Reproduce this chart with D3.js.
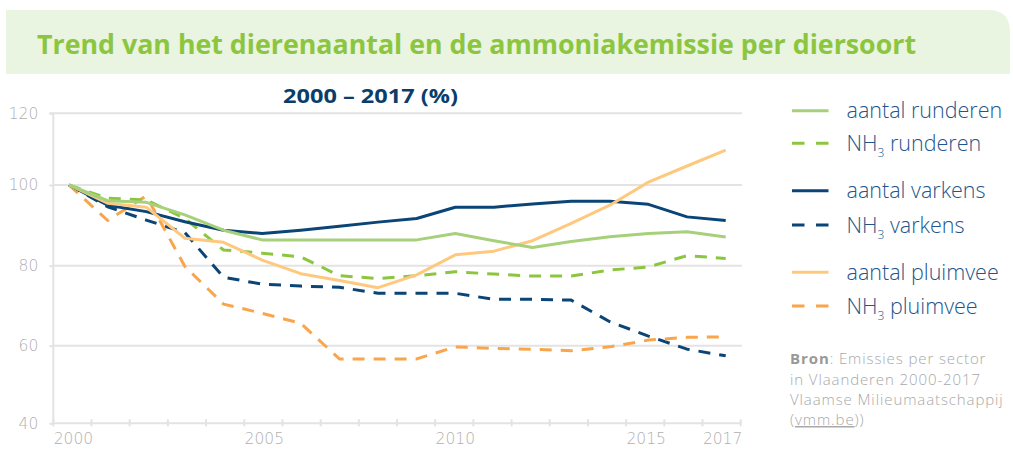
<!DOCTYPE html>
<html><head><meta charset="utf-8">
<script src="https://cdn.jsdelivr.net/npm/d3@7"></script>
<style>
html,body{margin:0;padding:0;background:#fff;}
svg{display:block;}
</style></head>
<body>
<svg id="chart" width="1013" height="470"></svg>
<script>
const years = [2000,2001,2002,2003,2004,2005,2006,2007,2008,2009,2010,2011,2012,2013,2014,2015,2016,2017];
const xTickLabels = [2000,2005,2010,2015,2017];
const yTicks = [40,60,80,100,120];

const aantalRunderen = [100,96.1,95.7,92.6,88.8,86.4,86.4,86.4,86.4,86.4,88.0,86.2,84.5,86.0,87.2,88.0,88.4,87.1];
const nh3Runderen    = [100,96.7,96.3,91.7,83.9,83.1,82.2,77.5,76.8,77.5,78.5,77.9,77.4,77.4,78.9,79.7,82.5,81.8];
const aantalVarkens  = [100,95.0,93.4,90.9,88.8,88.0,88.8,89.8,90.8,91.7,94.5,94.5,95.3,96.0,96.0,95.2,92.1,91.2];
const nh3Varkens     = [100,94.6,91.3,88.2,77.1,75.4,74.9,74.6,73.1,73.1,73.1,71.6,71.6,71.4,66.0,62.4,59.1,57.4];
const aantalPluimvee = [100,95.5,94.5,86.8,85.8,81.4,78.0,76.3,74.5,77.7,82.7,83.6,86.2,90.5,95.0,100.8,105.3,109.7];
const nh3Pluimvee    = [100,91.2,97.3,79.8,70.4,68.1,65.6,56.6,56.6,56.6,59.7,59.3,59.1,58.7,59.7,61.4,62.1,62.2];

const seriesNames = ["aantal runderen","NH3 runderen","aantal varkens","NH3 varkens","aantal pluimvee","NH3 pluimvee"];

const cGreenL = "#a6d17a", cGreen = "#8cc63f", cNavy = "#0b4476", cOrangeL = "#fec97f", cOrange = "#f9a54c";

const series = [
  {name:seriesNames[3], values:nh3Varkens, color:cNavy, dash:true},
  {name:seriesNames[5], values:nh3Pluimvee, color:cOrange, dash:true},
  {name:seriesNames[1], values:nh3Runderen, color:cGreen, dash:true},
  {name:seriesNames[2], values:aantalVarkens, color:cNavy, dash:false},
  {name:seriesNames[4], values:aantalPluimvee, color:cOrangeL, dash:false},
  {name:seriesNames[0], values:aantalRunderen, color:cGreenL, dash:false}
];

const svg = d3.select("#chart");

// Banner
const bx=6, by=10, bw=1004, bh=64, br=22;
svg.append("path")
  .attr("d", `M${bx},${by} H${bx+bw-br} Q${bx+bw},${by} ${bx+bw},${by+br} V${by+bh} H${bx} Z`)
  .attr("fill","#e9f4e1");
svg.append("text")
  .attr("x",37).attr("y",54)
  .attr("font-family","'Open Sans', sans-serif").attr("font-weight",700)
  .attr("font-size",26).attr("fill","#8cc63f")
  .attr("textLength",879).attr("lengthAdjust","spacingAndGlyphs")
  .text("Trend van het dierenaantal en de ammoniakemissie per diersoort");

// Subtitle
svg.append("text")
  .attr("x",283).attr("y",103)
  .attr("font-family","'Open Sans', sans-serif").attr("font-weight",700)
  .attr("font-size",20).attr("fill","#0b3d6b")
  .attr("textLength",175).attr("lengthAdjust","spacingAndGlyphs")
  .text("2000 – 2017 (%)");

// Scales
const xBand = d3.scaleBand().domain(years).range([53.3,740.7]);
const xPt = d3.scalePoint().domain(years).range([69,725.7]);
const y = d3.scaleLinear().domain([40,60,80,100,120]).range([423.3,345.7,265.7,185,113.3]);

const gridColor = "#e3e3e3";
const axisText = "#b0b0b0";

// gridlines
svg.append("g").selectAll("line").data(yTicks.filter(d=>d>40)).join("line")
  .attr("x1",53.3).attr("x2",742).attr("y1",d=>y(d)).attr("y2",d=>y(d))
  .attr("stroke",gridColor).attr("stroke-width",2);

// Y axis
const yAxis = d3.axisLeft(y).tickValues(yTicks).tickSize(4).tickPadding(11);
const gy = svg.append("g").attr("transform","translate(53.3,0)").call(yAxis);
gy.select(".domain").attr("stroke",gridColor).attr("stroke-width",2).attr("d",`M-4,${y(120)}H0V${y(40)}`);
gy.selectAll(".tick line").attr("stroke",gridColor).attr("stroke-width",2);
gy.selectAll(".tick text").attr("fill",axisText).attr("font-family","'DejaVu Sans', sans-serif")
  .attr("font-size",15.5).attr("font-weight",200);

// X axis (ticks at band boundaries, labels at band centers)
const boundaries = years.map(d=>xBand(d)).concat([xBand.range()[1]]);
const gx = svg.append("g");
gx.append("line").attr("x1",53.3).attr("x2",742).attr("y1",y(40)).attr("y2",y(40))
  .attr("stroke",gridColor).attr("stroke-width",2);
gx.selectAll("line.tk").data(boundaries).join("line").attr("class","tk")
  .attr("x1",d=>d).attr("x2",d=>d).attr("y1",y(40)-4).attr("y2",y(40)+3)
  .attr("stroke",gridColor).attr("stroke-width",2);
gx.selectAll("text").data(xTickLabels).join("text")
  .attr("x",d=>xBand(d)+xBand.bandwidth()/2+1).attr("y",y(40)+21)
  .attr("text-anchor","middle").attr("fill",axisText)
  .attr("font-family","'DejaVu Sans', sans-serif").attr("font-size",15.5).attr("font-weight",200)
  .text(d=>d);

// Lines
const line = d3.line().x((d,i)=>xPt(years[i])).y(d=>y(d));
svg.append("g").selectAll("path").data(series).join("path")
  .attr("d",d=>line(d.values))
  .attr("fill","none").attr("stroke",d=>d.color).attr("stroke-width",3)
  .attr("stroke-linejoin","round")
  .attr("stroke-dasharray",d=>d.dash?"12,9":null);

// Legend
const legendItems = [
  {name:seriesNames[0], color:cGreenL, dash:false, y:110.7},
  {name:seriesNames[1], color:cGreen, dash:true, y:143.3},
  {name:seriesNames[2], color:cNavy, dash:false, y:190.7},
  {name:seriesNames[3], color:cNavy, dash:true, y:225},
  {name:seriesNames[4], color:cOrangeL, dash:false, y:272.3},
  {name:seriesNames[5], color:cOrange, dash:true, y:306}
];
const lg = svg.append("g");
const li = lg.selectAll("g").data(legendItems).join("g");
li.append("line").attr("x1",792).attr("x2",828.5).attr("y1",d=>d.y).attr("y2",d=>d.y)
  .attr("stroke",d=>d.color).attr("stroke-width",3)
  .attr("stroke-dasharray",d=>d.dash?"12.5,11.5":null);
const lt = li.append("text").attr("x",846.5).attr("y",d=>d.y+7.5)
  .attr("font-family","'Open Sans', sans-serif").attr("font-weight",300).attr("font-size",21.5)
  .attr("fill","#23558a");
lt.each(function(d){
  const t = d3.select(this);
  if (d.name.startsWith("NH3")) {
    t.append("tspan").text("NH");
    t.append("tspan").attr("font-size",12).attr("dy",6).text("3");
    t.append("tspan").attr("dy",-6).text(" " + d.name.slice(4));
  } else {
    t.text(d.name);
  }
});

// Source
const src = svg.append("g").attr("font-family","'Open Sans', sans-serif").attr("font-size",15)
  .attr("letter-spacing",0.9).attr("fill","#a8a8a8").attr("font-weight",300);
const s1 = src.append("text").attr("x",790).attr("y",364);
s1.append("tspan").attr("font-weight",700).attr("fill","#999").text("Bron");
s1.append("tspan").text(": Emissies per sector");
src.append("text").attr("x",790).attr("y",384.5).text("in Vlaanderen 2000-2017");
src.append("text").attr("x",790).attr("y",405).text("Vlaamse Milieumaatschappij");
const s4 = src.append("text").attr("x",790).attr("y",425);
s4.append("tspan").text("(");
s4.append("tspan").attr("text-decoration","underline").text("vmm.be");
s4.append("tspan").text("))");
</script>
</body></html>
